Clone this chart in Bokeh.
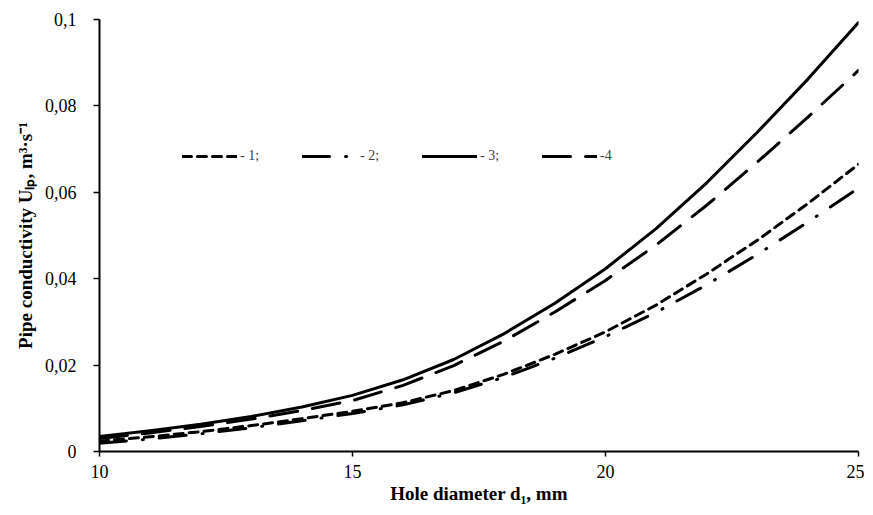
from bokeh.plotting import figure
from bokeh.models import FixedTicker, CustomJSTickFormatter, Legend, LegendItem
from bokeh.embed import file_html
from bokeh.resources import INLINE

# Hole diameter d1, mm
d1 = [10, 11, 12, 13, 14, 15, 16, 17, 18, 19, 20, 21, 22, 23, 24, 25]

# Pipe conductivity, m3/s
series_1 = [0.0024, 0.0034, 0.0046, 0.0060, 0.0076, 0.0093, 0.0113, 0.0141, 0.0179, 0.0225,
            0.0277, 0.0339, 0.0411, 0.0489, 0.0574, 0.0665]
series_2 = [0.0019, 0.0029, 0.0041, 0.0055, 0.0071, 0.0088, 0.0108, 0.0136, 0.0172, 0.0216,
            0.0266, 0.0322, 0.0386, 0.0456, 0.0531, 0.0610]
series_3 = [0.0035, 0.0048, 0.0063, 0.0081, 0.0103, 0.0130, 0.0166, 0.0213, 0.0273, 0.0343,
            0.0423, 0.0516, 0.0622, 0.0739, 0.0862, 0.0993]
series_4 = [0.0030, 0.0043, 0.0058, 0.0075, 0.0095, 0.0118, 0.0153, 0.0199, 0.0256, 0.0323,
            0.0396, 0.0478, 0.0570, 0.0670, 0.0774, 0.0882]

legend_labels = ["- 1;", "- 2;", "- 3;", "-4"]
x_ticks = [10, 15, 20, 25]
y_ticks = [0, 0.02, 0.04, 0.06, 0.08, 0.1]

FONT = "Liberation Serif"

p = figure(width=864, height=506, x_range=(10, 25), y_range=(0, 0.1),
           output_backend="svg", toolbar_location=None,
           min_border_left=99, min_border_right=6, min_border_top=19, min_border_bottom=52)
p.outline_line_color = None
p.xgrid.visible = False
p.ygrid.visible = False

styles = [
    dict(line_dash="9 6", line_cap="round"),
    dict(line_dash="27 16 1 16", line_cap="round"),
    dict(line_dash="solid", line_cap="round"),
    dict(line_dash="28 15", line_cap="round"),
]
renderers = []
for ys, st in zip([series_1, series_2, series_3, series_4], styles):
    r = p.line(d1, ys, line_color="black", line_width=3, line_join="round", **st)
    renderers.append(r)

legend = Legend(items=[LegendItem(label=lab, renderers=[r]) for lab, r in zip(legend_labels, renderers)],
                orientation="horizontal", location=(83, 287),
                glyph_width=55, glyph_height=14, label_standoff=3, spacing=42,
                padding=0, margin=0, border_line_alpha=0, background_fill_alpha=0,
                label_text_font=FONT, label_text_font_size="14px", label_text_color="#404040",
                label_height=14)
p.add_layout(legend, "center")

fmt = CustomJSTickFormatter(code="""
if (Math.abs(tick) < 1e-12) return "0";
var s = tick.toFixed(2);
s = s.replace(/0+$/, "");
return s.replace(".", ",");
""")

p.xaxis.ticker = FixedTicker(ticks=x_ticks)
p.yaxis.ticker = FixedTicker(ticks=y_ticks)
p.yaxis.formatter = fmt
for ax in (p.xaxis, p.yaxis):
    ax.axis_line_width = 2
    ax.axis_line_color = "black"
    ax.major_tick_line_color = "black"
    ax.major_tick_line_width = 1.5
    ax.major_tick_in = 0
    ax.minor_tick_line_color = None
    ax.major_label_text_font = FONT
    ax.major_label_text_font_size = "18px"
    ax.major_label_text_color = "black"
    ax.axis_label_text_font = FONT
    ax.axis_label_text_font_size = "19px"
    ax.axis_label_text_font_style = "bold"
    ax.axis_label_text_color = "black"

p.xaxis.major_tick_out = 5
p.xaxis.major_label_standoff = 8
p.xaxis.axis_label = "Hole diameter d\u2081, mm"
p.xaxis.axis_label_standoff = 2
p.yaxis.major_tick_out = 6
p.yaxis.major_label_standoff = 17
p.yaxis.axis_label = "Pipe conductivity U\u2097\u209a, m\u00b3\u00b7s\u207b\u00b9"
p.yaxis.axis_label_standoff = 6

open("out.html", "w").write(file_html(p, INLINE))
